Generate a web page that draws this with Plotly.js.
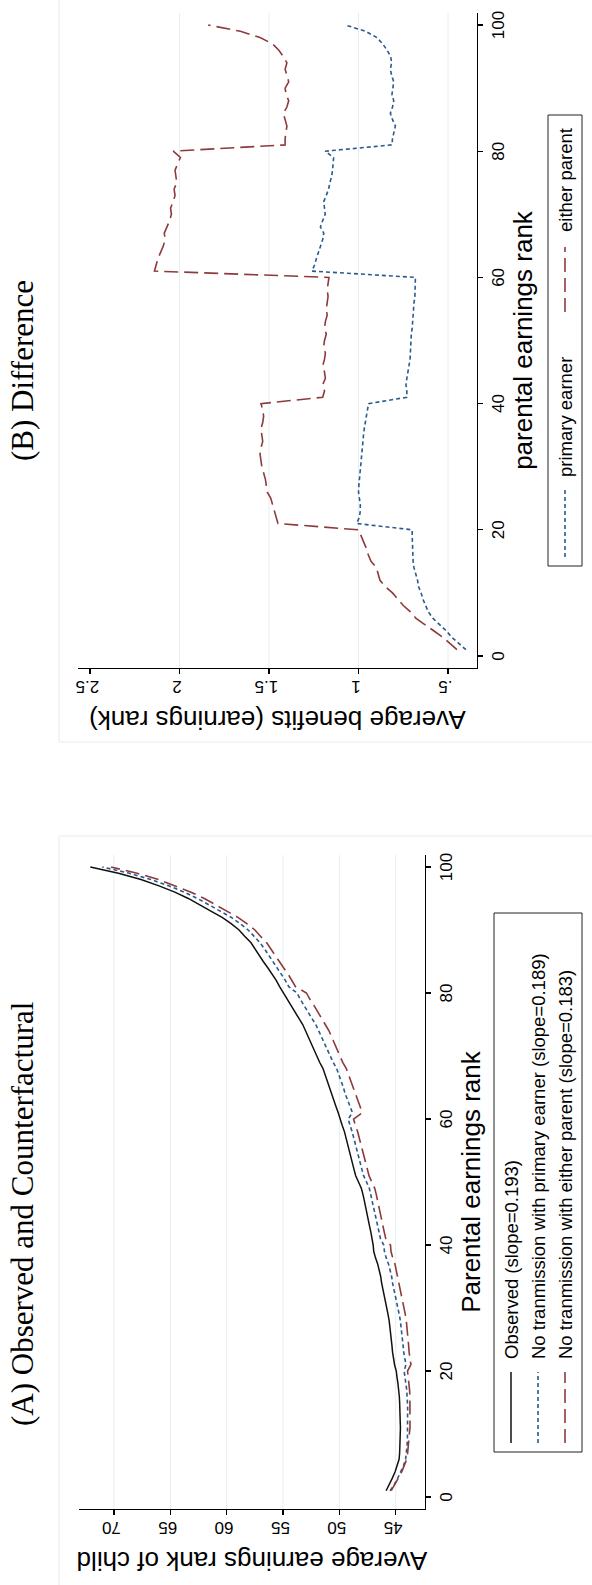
<!DOCTYPE html>
<html>
<head>
<meta charset="utf-8">
<script src="https://cdn.plot.ly/plotly-3.0.1.min.js"></script>
<style>
  html, body { margin: 0; padding: 0; background: #fff; overflow: hidden; width: 592px; height: 1585px; }
  /* the figure is laid out landscape and turned a quarter turn to fit the portrait page */
  #fig { position: absolute; left: 0; top: 0; width: 1585px; height: 592px;
         transform-origin: 0 0; transform: translate(0px, 1585px) rotate(-90deg); }
</style>
</head>
<body>
<div id="fig"></div>
<script>
// parental earnings rank (percentile 1..100)
const ranks = Array.from({length: 100}, (_, i) => i + 1);

// Panel A: average earnings rank of child
const observed = [
  45.85,45.55,45.3,45.05,44.85,44.7,44.65,44.62,44.6,44.6,
  44.58,44.6,44.6,44.63,44.65,44.68,44.72,44.8,44.88,44.95,
  45.1,45.2,45.28,45.33,45.38,45.45,45.5,45.58,45.68,45.8,
  45.92,46.05,46.13,46.25,46.33,46.45,46.6,46.8,46.95,47.0,
  47.08,47.2,47.32,47.42,47.53,47.65,47.78,47.9,48.05,48.3,
  48.55,48.7,48.83,49.0,49.1,49.25,49.4,49.55,49.75,49.9,
  50.1,50.3,50.5,50.7,50.85,51.05,51.25,51.45,51.75,52.0,
  52.2,52.45,52.7,52.95,53.25,53.6,53.95,54.25,54.6,54.95,
  55.3,55.6,55.95,56.35,56.75,57.1,57.45,57.85,58.4,58.9,
  59.6,60.4,61.4,62.4,63.4,64.6,66.0,67.6,69.6,72.1
];
const noPrimary = [
  45.5,45.11,44.82,44.54,44.3,44.12,44.04,44.0,43.96,43.95,
  43.92,43.93,43.92,43.94,43.96,43.98,44.02,44.1,44.18,44.25,
  44.09,44.21,44.29,44.34,44.39,44.45,44.5,44.59,44.69,44.81,
  44.94,45.07,45.15,45.28,45.36,45.48,45.64,45.85,46.0,46.06,
  46.35,46.47,46.59,46.69,46.81,46.93,47.07,47.19,47.34,47.59,
  47.85,48.0,48.13,48.3,48.41,48.56,48.72,48.87,49.07,49.22,
  48.84,49.06,49.27,49.48,49.64,49.85,50.06,50.24,50.55,50.81,
  51.01,51.26,51.52,51.78,52.09,52.45,52.81,53.11,53.46,53.76,
  54.49,54.79,55.15,55.56,55.94,56.28,56.64,57.05,57.59,58.09,
  58.8,59.59,60.58,61.59,62.58,63.76,65.14,66.7,68.64,71.03
];
const noEither = [
  45.4,45.06,44.77,44.47,44.22,44.02,43.94,43.87,43.82,43.79,
  43.73,43.72,43.71,43.73,43.72,43.74,43.77,43.83,43.9,43.95,
  43.65,43.74,43.81,43.85,43.89,43.94,43.99,44.06,44.15,44.26,
  44.38,44.5,44.59,44.72,44.79,44.91,45.07,45.27,45.42,45.46,
  45.88,46.01,46.12,46.24,46.34,46.45,46.59,46.72,46.86,47.11,
  47.37,47.51,47.65,47.83,47.92,48.08,48.23,48.38,48.58,48.74,
  47.96,48.17,48.38,48.6,48.76,48.97,49.17,49.38,49.7,49.96,
  50.15,50.42,50.68,50.92,51.24,51.58,51.93,52.24,52.61,52.92,
  53.89,54.19,54.55,54.95,55.34,55.68,56.05,56.46,57.0,57.49,
  58.21,59.0,59.99,61.0,61.98,63.16,64.52,66.05,67.94,70.26
];

// Panel B: average benefits (earnings rank)
const benefitPrimary = [
  0.40,0.44,0.48,0.51,0.55,0.585,0.61,0.625,0.64,0.65,
  0.665,0.67,0.68,0.69,0.695,0.697,0.698,0.70,0.70,0.70,
  1.01,0.995,0.99,0.99,0.995,1.0,0.998,0.995,0.99,0.99,
  0.985,0.982,0.98,0.975,0.972,0.968,0.963,0.955,0.95,0.943,
  0.73,0.73,0.735,0.73,0.722,0.718,0.712,0.71,0.71,0.71,
  0.705,0.70,0.698,0.697,0.695,0.69,0.685,0.683,0.682,0.682,
  1.26,1.245,1.235,1.222,1.21,1.20,1.194,1.213,1.20,1.186,
  1.19,1.194,1.18,1.167,1.16,1.15,1.145,1.14,1.139,1.186,
  0.813,0.81,0.80,0.794,0.81,0.822,0.81,0.803,0.813,0.81,
  0.803,0.815,0.822,0.815,0.82,0.84,0.865,0.897,0.96,1.074
];
const benefitEither = [
  0.45,0.49,0.53,0.58,0.63,0.68,0.71,0.75,0.78,0.81,
  0.85,0.88,0.89,0.90,0.93,0.945,0.955,0.97,0.985,1.0,
  1.45,1.46,1.47,1.48,1.49,1.51,1.515,1.52,1.53,1.54,
  1.545,1.55,1.545,1.535,1.54,1.545,1.535,1.53,1.535,1.545,
  1.2,1.19,1.2,1.185,1.19,1.2,1.19,1.185,1.195,1.19,
  1.18,1.19,1.185,1.175,1.18,1.175,1.17,1.175,1.17,1.165,
  2.14,2.13,2.12,2.105,2.09,2.08,2.085,2.07,2.055,2.045,
  2.05,2.035,2.025,2.03,2.015,2.02,2.025,2.01,1.995,2.035,
  1.41,1.41,1.405,1.40,1.41,1.42,1.40,1.39,1.405,1.41,
  1.39,1.40,1.41,1.40,1.42,1.445,1.48,1.55,1.66,1.84
];

// axis ticks and labels
const rankTicks = [0, 20, 40, 60, 80, 100];
const ticksA = [45, 50, 55, 60, 65, 70];
const ticksB = [0.5, 1, 1.5, 2, 2.5];
const tickTextB = ['.5', '1', '1.5', '2', '2.5'];
const gridA = [45, 50, 55, 60, 65, 70];
const gridB = [0.5, 1, 1.5, 2];

const titleA = '(A) Observed and Counterfactural';
const titleB = '(B) Difference';
const legendA = ['Observed (slope=0.193)',
                 'No tranmission with primary earner (slope=0.189)',
                 'No tranmission with either parent (slope=0.183)'];
const legendB = ['primary earner', 'either parent'];

// styling
const W = 1585, H = 592;
const SANS = 'Liberation Sans, Arial, Helvetica, sans-serif';
const SERIF = 'Liberation Serif, Times New Roman, serif';
const BLACK = '#111111', BLUE = '#2c5a8c', RED = '#8e3a3c';
const GRID = '#e6eeef', FRAME = '#e8ecec';
const styles = {
  observed: {color: BLACK, width: 1.5, dash: 'solid'},
  primary:  {color: BLUE,  width: 1.6, dash: '4px,3px'},
  either:   {color: RED,   width: 1.6, dash: '14px,6px'}
};

const px = v => v / W;            // horizontal pixel -> paper
const py = v => 1 - v / H;        // vertical pixel (from top) -> paper

const traces = [
  {x: ranks, y: observed,  xaxis: 'x',  yaxis: 'y',  mode: 'lines', line: styles.observed, name: legendA[0]},
  {x: ranks, y: noPrimary, xaxis: 'x',  yaxis: 'y',  mode: 'lines', line: styles.primary,  name: legendA[1]},
  {x: ranks, y: noEither,  xaxis: 'x',  yaxis: 'y',  mode: 'lines', line: styles.either,   name: legendA[2]},
  {x: ranks, y: benefitPrimary, xaxis: 'x2', yaxis: 'y2', mode: 'lines', line: styles.primary, name: legendB[0]},
  {x: ranks, y: benefitEither,  xaxis: 'x2', yaxis: 'y2', mode: 'lines', line: styles.either,  name: legendB[1]}
];

const axisBase = {
  showline: true, linecolor: '#000', linewidth: 1.3, mirror: false,
  ticks: 'outside', ticklen: 5, tickwidth: 1.3, tickcolor: '#000',
  showgrid: false, zeroline: false,
  tickfont: {family: SANS, size: 17, color: '#000'}
};

const layout = {
  width: W, height: H,
  margin: {l: 0, r: 0, t: 0, b: 0, pad: 0},
  paper_bgcolor: '#fff', plot_bgcolor: 'rgba(0,0,0,0)',
  showlegend: false,
  xaxis: Object.assign({}, axisBase, {
    domain: [px(76), px(730)], range: [-1.9, 101.9], anchor: 'y',
    tickmode: 'array', tickvals: rankTicks,
    title: {text: 'Parental earnings rank', font: {family: SANS, size: 26, color: '#000'}, standoff: 6}
  }),
  yaxis: Object.assign({}, axisBase, {
    domain: [1 - 425 / H, 1 - 79 / H], range: [42.4, 73.1], anchor: 'x',
    tickmode: 'array', tickvals: ticksA, tickangle: -90,
    title: {text: 'Average earnings rank of child', font: {family: SANS, size: 26, color: '#000'}, standoff: 6}
  }),
  xaxis2: Object.assign({}, axisBase, {
    domain: [px(917), px(1572)], range: [-1.9, 101.9], anchor: 'y2',
    tickmode: 'array', tickvals: rankTicks,
    title: {text: 'parental earnings rank', font: {family: SANS, size: 26, color: '#000'}, standoff: 6}
  }),
  yaxis2: Object.assign({}, axisBase, {
    domain: [1 - 477 / H, 1 - 78 / H], range: [0.338, 2.567], anchor: 'x2',
    tickmode: 'array', tickvals: ticksB, ticktext: tickTextB, tickangle: -90,
    title: {text: 'Average benefits (earnings rank)', font: {family: SANS, size: 26, color: '#000'}, standoff: 6}
  }),
  shapes: [],
  annotations: []
};

// light outline of each graph region
layout.shapes.push({type: 'rect', xref: 'paper', yref: 'paper', x0: -0.02, x1: px(749), y0: py(59), y1: -0.05,
                    line: {color: FRAME, width: 1}, layer: 'below'});
layout.shapes.push({type: 'rect', xref: 'paper', yref: 'paper', x0: px(843), x1: 1.02, y0: py(59), y1: -0.05,
                    line: {color: FRAME, width: 1}, layer: 'below'});

// horizontal gridlines
gridA.forEach(v => layout.shapes.push({type: 'line', xref: 'x domain', yref: 'y', x0: 0, x1: 1, y0: v, y1: v,
                                      line: {color: GRID, width: 1}, layer: 'below'}));
gridB.forEach(v => layout.shapes.push({type: 'line', xref: 'x2 domain', yref: 'y2', x0: 0, x1: 1, y0: v, y1: v,
                                      line: {color: GRID, width: 1}, layer: 'below'}));

// panel titles
layout.annotations.push({text: titleA, xref: 'paper', yref: 'paper', x: px(371), y: py(22),
                         xanchor: 'center', yanchor: 'middle', showarrow: false,
                         font: {family: SERIF, size: 31, color: '#000'}});
layout.annotations.push({text: titleB, xref: 'paper', yref: 'paper', x: px(1214), y: py(22),
                         xanchor: 'center', yanchor: 'middle', showarrow: false,
                         font: {family: SERIF, size: 31, color: '#000'}});

// legend boxes with line keys
function addKey(x0, x1, yy, style, label, textX) {
  layout.shapes.push({type: 'line', xref: 'paper', yref: 'paper', x0: px(x0), x1: px(x1), y0: py(yy), y1: py(yy),
                      line: {color: style.color, width: style.width, dash: style.dash}});
  layout.annotations.push({text: label, xref: 'paper', yref: 'paper', x: px(textX), y: py(yy),
                           xanchor: 'left', yanchor: 'middle', showarrow: false,
                           font: {family: SANS, size: 18.5, color: '#000'}});
}
layout.shapes.push({type: 'rect', xref: 'paper', yref: 'paper', x0: px(133), x1: px(672), y0: py(494), y1: py(582),
                    line: {color: '#222', width: 1}});
addKey(142, 213, 511, styles.observed, legendA[0], 224);
addKey(142, 213, 538, styles.primary,  legendA[1], 224);
addKey(142, 213, 565, styles.either,   legendA[2], 224);

layout.shapes.push({type: 'rect', xref: 'paper', yref: 'paper', x0: px(1019), x1: px(1470), y0: py(548), y1: py(582),
                    line: {color: '#222', width: 1}});
addKey(1028, 1097, 565, styles.primary, legendB[0], 1106);
addKey(1273, 1338, 565, styles.either,  legendB[1], 1351);

Plotly.newPlot('fig', traces, layout, {displayModeBar: false, staticPlot: true, responsive: false});
</script>
</body>
</html>
